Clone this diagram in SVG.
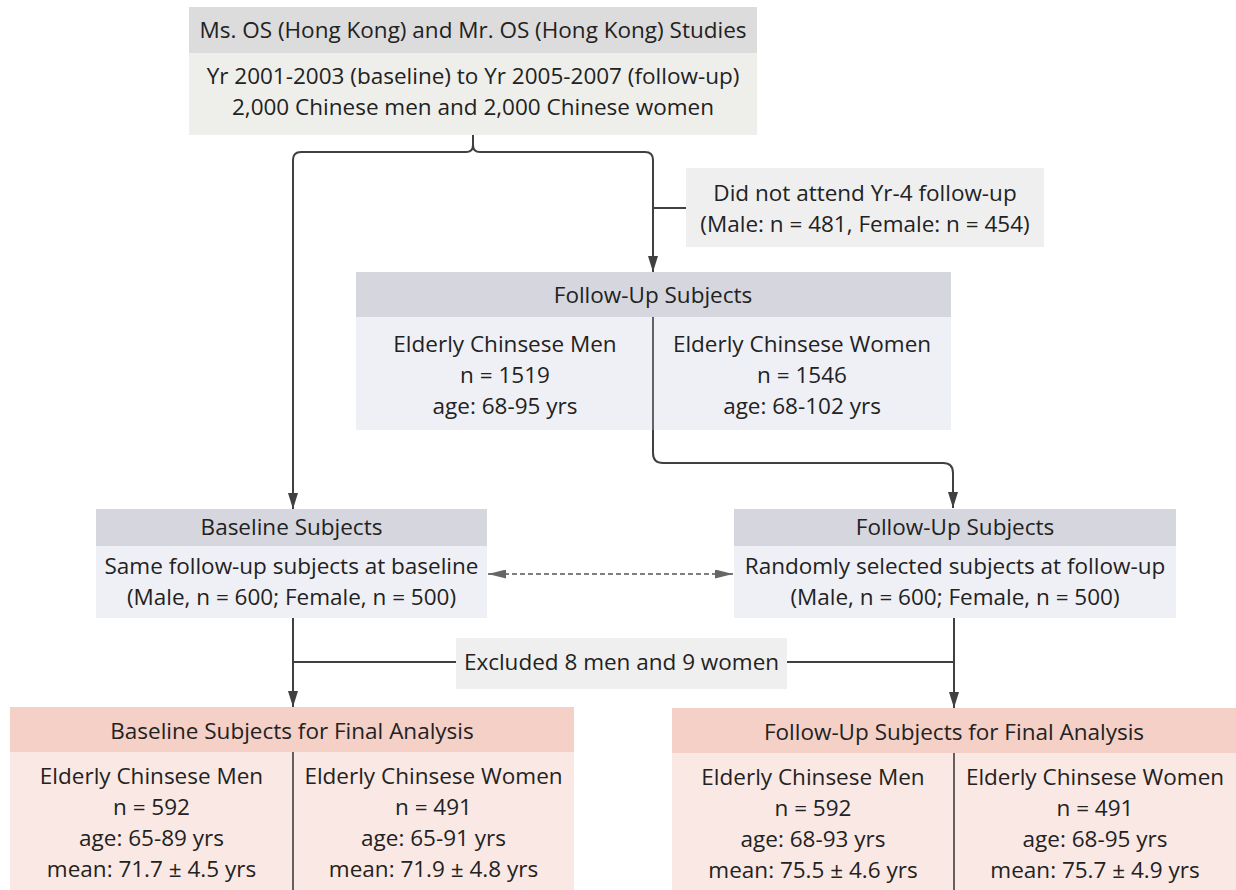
<svg xmlns="http://www.w3.org/2000/svg" width="1236" height="890" viewBox="0 0 1236 890">
<defs>
<style>
text{font-family:"Open Sans","Noto Sans","DejaVu Sans",sans-serif;font-size:22.5px;fill:#222;text-anchor:middle}
.hdrTop{fill:#dcdcdc}.bodyTop{fill:#eeeeea}
.hdrMid{fill:#d6d6de}.bodyMid{fill:#eff0f5}
.hdrFin{fill:#f4d0c7}.bodyFin{fill:#fae8e4}
.note{fill:#efefef}
.div{stroke:#333;stroke-width:1.5;fill:none}
.con{stroke:#404040;stroke-width:2;fill:none}
.dash{stroke:#555;stroke-width:1.5;fill:none;stroke-dasharray:5 3}
</style>
<marker id="arr" viewBox="0 0 16 10" refX="16" refY="5" markerWidth="16" markerHeight="10" markerUnits="userSpaceOnUse" orient="auto">
<path d="M0,0 L16,5 L0,10 z" fill="#404040"/>
</marker>
<marker id="arrD" viewBox="0 0 18 9" refX="18" refY="4.5" markerWidth="18" markerHeight="9" markerUnits="userSpaceOnUse" orient="auto-start-reverse">
<path d="M0,0 L18,4.5 L0,9 z" fill="#666"/>
</marker>
</defs>
<rect width="1236" height="890" fill="#fff"/>

<g id="connectors">
<path class="con" d="M473,135 L473,145 Q473,152 466,152 L301,152 Q293,152 293,160 L293,509" marker-end="url(#arr)"/>
<path class="con" d="M473,145 Q473,152 480,152 L645,152 Q653,152 653,160 L653,272" marker-end="url(#arr)"/>
<path class="con" d="M653,208 L686,208"/>
<path class="con" d="M653,430 L653,453 Q653,463 663,463 L943,463 Q953,463 953,473 L953,508" marker-end="url(#arr)"/>
<path class="dash" d="M488,574 L733,574" marker-start="url(#arrD)" marker-end="url(#arrD)"/>
<path class="con" d="M293,618 L293,707" marker-end="url(#arr)"/>
<path class="con" d="M954,618 L954,708" marker-end="url(#arr)"/>
<path class="con" d="M293,662 L456,662"/>
<path class="con" d="M787,662 L954,662"/>
</g>

<g id="studies">
<rect class="hdrTop" x="189" y="7" width="568" height="46"/>
<rect class="bodyTop" x="189" y="53" width="568" height="82"/>
<text x="473" y="38">Ms. OS (Hong Kong) and Mr. OS (Hong Kong) Studies</text>
<text x="473" y="84">Yr 2001-2003 (baseline) to Yr 2005-2007 (follow-up)</text>
<text x="473" y="115">2,000 Chinese men and 2,000 Chinese women</text>
</g>

<g id="did-not-attend">
<rect class="note" x="686" y="168" width="358" height="79"/>
<text x="865" y="201">Did not attend Yr-4 follow-up</text>
<text x="865" y="232">(Male: n = 481, Female: n = 454)</text>
</g>

<g id="followup-subjects">
<rect class="hdrMid" x="356" y="272" width="595" height="45"/>
<rect class="bodyMid" x="356" y="317" width="595" height="113"/>
<line class="div" x1="653" y1="317" x2="653" y2="430"/>
<text x="653" y="303">Follow-Up Subjects</text>
<text x="505" y="352">Elderly Chinsese Men</text>
<text x="505" y="383">n = 1519</text>
<text x="505" y="414">age: 68-95 yrs</text>
<text x="802" y="352">Elderly Chinsese Women</text>
<text x="802" y="383">n = 1546</text>
<text x="802" y="414">age: 68-102 yrs</text>
</g>

<g id="baseline-subjects">
<rect class="hdrMid" x="96" y="509" width="391" height="37"/>
<rect class="bodyMid" x="96" y="546" width="391" height="72"/>
<text x="291.5" y="535">Baseline Subjects</text>
<text x="291.5" y="574">Same follow-up subjects at baseline</text>
<text x="291.5" y="605">(Male, n = 600; Female, n = 500)</text>
</g>

<g id="followup-random">
<rect class="hdrMid" x="734" y="509" width="442" height="37"/>
<rect class="bodyMid" x="734" y="546" width="442" height="72"/>
<text x="955" y="535">Follow-Up Subjects</text>
<text x="955" y="574">Randomly selected subjects at follow-up</text>
<text x="955" y="605">(Male, n = 600; Female, n = 500)</text>
</g>

<g id="excluded">
<rect class="note" x="456" y="638" width="331" height="51"/>
<text x="621.5" y="670">Excluded 8 men and 9 women</text>
</g>

<g id="baseline-final">
<rect class="hdrFin" x="10" y="707" width="564" height="45"/>
<rect class="bodyFin" x="10" y="752" width="564" height="138"/>
<line class="div" x1="293" y1="752" x2="293" y2="890"/>
<text x="292" y="739">Baseline Subjects for Final Analysis</text>
<text x="151.5" y="784">Elderly Chinsese Men</text>
<text x="151.5" y="815">n = 592</text>
<text x="151.5" y="846">age: 65-89 yrs</text>
<text x="151.5" y="877">mean: 71.7 ± 4.5 yrs</text>
<text x="433.5" y="784">Elderly Chinsese Women</text>
<text x="433.5" y="815">n = 491</text>
<text x="433.5" y="846">age: 65-91 yrs</text>
<text x="433.5" y="877">mean: 71.9 ± 4.8 yrs</text>
</g>

<g id="followup-final">
<rect class="hdrFin" x="672" y="708" width="564" height="45"/>
<rect class="bodyFin" x="672" y="753" width="564" height="137"/>
<line class="div" x1="954" y1="753" x2="954" y2="890"/>
<text x="954" y="740">Follow-Up Subjects for Final Analysis</text>
<text x="813" y="785">Elderly Chinsese Men</text>
<text x="813" y="816">n = 592</text>
<text x="813" y="847">age: 68-93 yrs</text>
<text x="813" y="878">mean: 75.5 ± 4.6 yrs</text>
<text x="1095" y="785">Elderly Chinsese Women</text>
<text x="1095" y="816">n = 491</text>
<text x="1095" y="847">age: 68-95 yrs</text>
<text x="1095" y="878">mean: 75.7 ± 4.9 yrs</text>
</g>
</svg>
